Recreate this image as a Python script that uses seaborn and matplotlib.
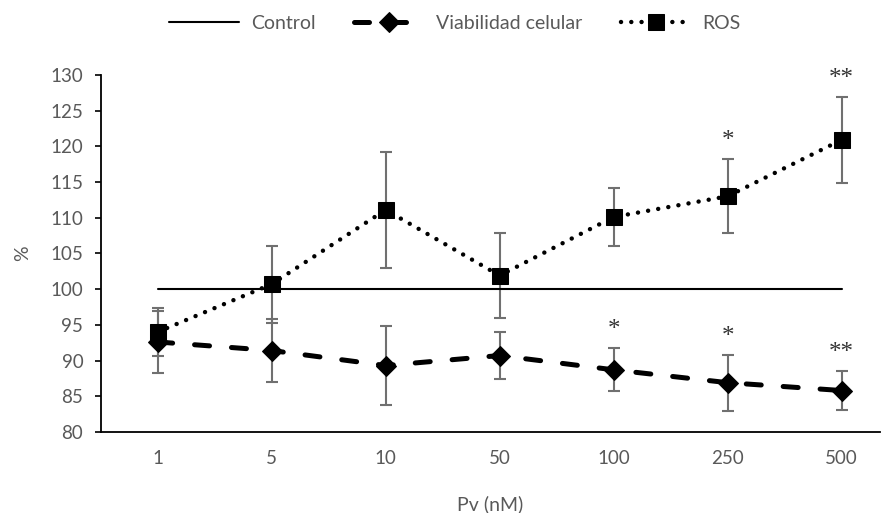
import numpy as np
import pandas as pd
import matplotlib
matplotlib.use("Agg")
import matplotlib.pyplot as plt
import seaborn as sns

categories = ["1", "5", "10", "50", "100", "250", "500"]
control = [100, 100, 100, 100, 100, 100, 100]
viab = [92.6, 91.4, 89.3, 90.7, 88.7, 86.9, 85.8]
viab_err = [4.3, 4.4, 5.5, 3.3, 3.0, 3.9, 2.7]
ros = [94.0, 100.7, 111.1, 101.9, 110.1, 113.0, 120.9]
ros_err = [3.4, 5.4, 8.1, 6.0, 4.0, 5.2, 6.0]
viab_sig = ["", "", "", "", "*", "*", "**"]
ros_sig = ["", "", "", "", "", "*", "**"]

sns.set_theme(style="white")
plt.rcParams['font.family'] = ['Lato', 'DejaVu Sans']
gray = "#595959"

fig = plt.figure(figsize=(8.87, 5.13), dpi=100)
ax = fig.add_axes([0.1135, 0.158, 0.879, 0.696])

x = np.arange(len(categories))
df = pd.DataFrame({"x": x, "control": control, "viab": viab, "ros": ros})

# error bars
for vals, errs in ((viab, viab_err), (ros, ros_err)):
    ax.errorbar(x, vals, yerr=errs, fmt="none", ecolor="#707070", elinewidth=1.5,
                capsize=4.2, capthick=1.5, zorder=2)

sns.lineplot(data=df, x="x", y="control", ax=ax, color="black", linewidth=1.5,
             label="Control", zorder=3)
sns.lineplot(data=df, x="x", y="viab", ax=ax, color="black", linewidth=3.6,
             marker="D", markersize=10.5, markeredgecolor="black",
             label="Viabilidad celular", zorder=4)
ax.lines[-1].set_dashes([3.0, 4.4])
ax.lines[-1].set_dash_capstyle("round")
sns.lineplot(data=df, x="x", y="ros", ax=ax, color="black", linewidth=3.2,
             marker="s", markersize=11, markeredgecolor="black",
             label="ROS", zorder=4)
ax.lines[-1].set_dashes([0.01, 2.3])
ax.lines[-1].set_dash_capstyle("round")

# significance stars
for vals, errs, sig in ((viab, viab_err, viab_sig), (ros, ros_err, ros_sig)):
    for xi, yi, e, s in zip(x, vals, errs, sig):
        if s:
            ax.text(xi, yi + e + 1.0, s, ha="center", va="bottom", fontsize=18,
                    family="Liberation Serif", color="#333333")

ax.set_xlim(-0.5, 6.34)
ax.set_ylim(80, 130)
ax.set_yticks(np.arange(80, 131, 5))
ax.set_xticks(x)
ax.set_xticklabels(categories)
ax.tick_params(axis="both", labelsize=13.5, colors=gray, labelcolor=gray)
ax.tick_params(axis="y", length=4.5, width=1.2, color="black", left=True, pad=8)
ax.tick_params(axis="x", length=0, pad=13)
ax.set_xlabel("Pv (nM)", fontsize=14, color=gray, labelpad=20)
ax.set_ylabel("%", fontsize=14, color=gray, labelpad=14)
for sp in ["top", "right"]:
    ax.spines[sp].set_visible(False)
for sp in ["left", "bottom"]:
    ax.spines[sp].set_color("black")
    ax.spines[sp].set_linewidth(1.3)

handles, labels = ax.get_legend_handles_labels()
ax.legend(handles, labels, loc="upper center", bbox_to_anchor=(0.513, 1.005),
          bbox_transform=fig.transFigure, ncol=3, frameon=False, fontsize=14,
          labelcolor=gray, handlelength=3.6, columnspacing=2.0, handletextpad=0.6)

fig.savefig("out.png", dpi=100)
